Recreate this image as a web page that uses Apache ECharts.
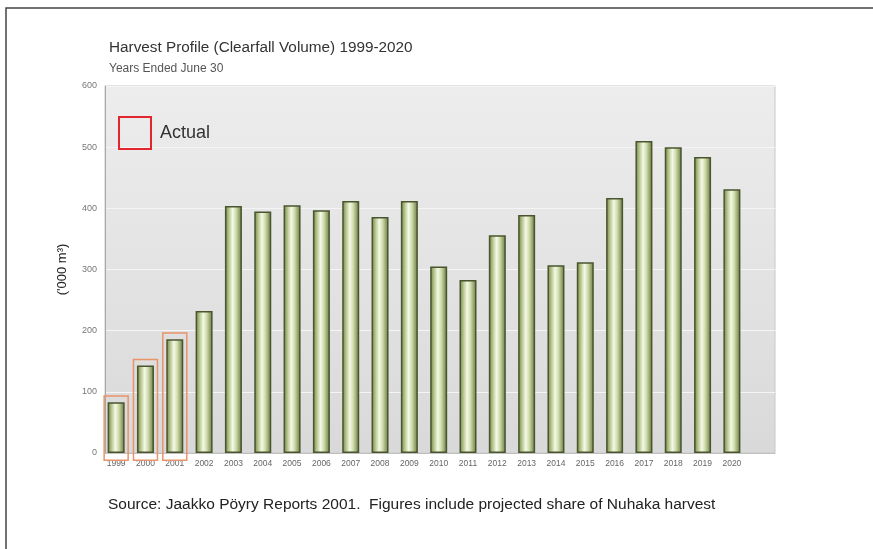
<!DOCTYPE html>
<html lang="en">
<head>
    <meta charset="UTF-8">
    <title>Harvest Profile</title>
    <script src="https://cdn.jsdelivr.net/npm/echarts@6/dist/echarts.min.js"></script>
    <style>
        html, body { margin: 0; padding: 0; background: #fff; }
        #main { width: 873px; height: 549px; }
    </style>
</head>
<body>
<div id="main"></div>

<script>
    // data
    var years = [1999, 2000, 2001, 2002, 2003, 2004, 2005, 2006, 2007, 2008, 2009,
                 2010, 2011, 2012, 2013, 2014, 2015, 2016, 2017, 2018, 2019, 2020];
    var volumes = [83, 143, 186, 232, 404, 395, 405, 397, 412, 386, 412,
                   305, 283, 356, 389, 307, 312, 417, 510, 500, 484, 431];
    var actualYears = [1999, 2000, 2001];   // years boxed as "Actual"
    var yTicks = [0, 100, 200, 300, 400, 500, 600];

    var barData = [];
    years.forEach(function (y, i) {
        barData.push([y, volumes[i]]);
    });
    var actualData = [];
    actualYears.forEach(function (y) {
        actualData.push([y, volumes[years.indexOf(y)]]);
    });

    var myChart = echarts.init(document.getElementById('main'));

    var barGradient = new echarts.graphic.LinearGradient(0, 0, 1, 0, [
        { offset: 0, color: '#6f8043' },
        { offset: 0.25, color: '#bccb93' },
        { offset: 0.45, color: '#f5f9e8' },
        { offset: 0.65, color: '#cfdcac' },
        { offset: 1, color: '#66773a' }
    ]);

    var option = {
        animation: false,
        textStyle: { fontFamily: 'Liberation Sans, Arial, sans-serif' },
        title: {
            text: 'Harvest Profile (Clearfall Volume) 1999-2020',
            subtext: 'Years Ended June 30',
            left: 109,
            top: 40,
            itemGap: 8,
            padding: 0,
            textStyle: { fontSize: 15.3, fontWeight: 'normal', color: '#333' },
            subtextStyle: { fontSize: 12, color: '#555' }
        },
        legend: {
            left: 118,
            top: 116,
            itemWidth: 32,
            itemHeight: 32,
            padding: 0,
            selectedMode: false,
            textStyle: { fontSize: 18, color: '#333', padding: [0, 0, 0, 4] },
            data: [{
                name: 'Actual',
                icon: 'rect',
                itemStyle: { color: 'rgba(0,0,0,0)', borderColor: '#e3262b', borderWidth: 2 }
            }]
        },
        grid: {
            left: 105,
            right: 98,
            top: 86,
            bottom: 96,
            show: true,
            borderColor: '#c8c8c8',
            borderWidth: 1,
            backgroundColor: new echarts.graphic.LinearGradient(0, 0, 0, 1, [
                { offset: 0, color: '#ededed' },
                { offset: 1, color: '#d9d9d9' }
            ])
        },
        xAxis: {
            type: 'value',
            min: 1998.62,
            max: 2021.47,
            axisLine: { show: true, lineStyle: { color: '#c0c0c0' } },
            axisTick: { show: false },
            splitLine: { show: false },
            axisLabel: {
                customValues: years,
                formatter: function (v) { return String(v); },
                fontSize: 8.5,
                color: '#666',
                margin: 6
            }
        },
        yAxis: {
            type: 'value',
            min: 0,
            max: 600,
            interval: 100,
            name: "('000 m³)",
            nameLocation: 'middle',
            nameRotate: 90,
            nameGap: 36,
            nameTextStyle: { fontSize: 13, color: '#222' },
            axisLine: { show: true, lineStyle: { color: '#a8a8a8' } },
            axisTick: { show: false },
            axisLabel: {
                customValues: yTicks,
                fontSize: 9,
                color: '#777',
                margin: 8
            },
            splitLine: { show: true, lineStyle: { color: '#f5f5f5', width: 1 } }
        },
        series: [
            {
                name: 'Volume',
                type: 'bar',
                barWidth: 17,
                data: barData,
                itemStyle: {
                    color: barGradient,
                    borderColor: '#4a5530',
                    borderWidth: 1.5
                }
            },
            {
                name: 'Actual',
                type: 'custom',
                clip: false,
                data: actualData,
                renderItem: function (params, api) {
                    var top = api.coord([api.value(0), api.value(1) + 10]);
                    var bot = api.coord([api.value(0), -12]);
                    return {
                        type: 'rect',
                        shape: { x: top[0] - 12, y: top[1], width: 24, height: bot[1] - top[1] },
                        style: { fill: 'none', stroke: '#e9936b', lineWidth: 1.5 }
                    };
                }
            }
        ],
        graphic: [
            {
                type: 'polyline',
                shape: { points: [[6, 549], [6, 8], [873, 8]] },
                style: { fill: 'none', stroke: '#444', lineWidth: 1.5 }
            },
            {
                type: 'text',
                left: 108,
                top: 497,
                style: {
                    text: 'Source: Jaakko Pöyry Reports 2001.  Figures include projected share of Nuhaka harvest',
                    fontSize: 15.5,
                    fill: '#222',
                    fontFamily: 'Liberation Sans, Arial, sans-serif'
                }
            }
        ]
    };

    myChart.setOption(option);
</script>
</body>
</html>
